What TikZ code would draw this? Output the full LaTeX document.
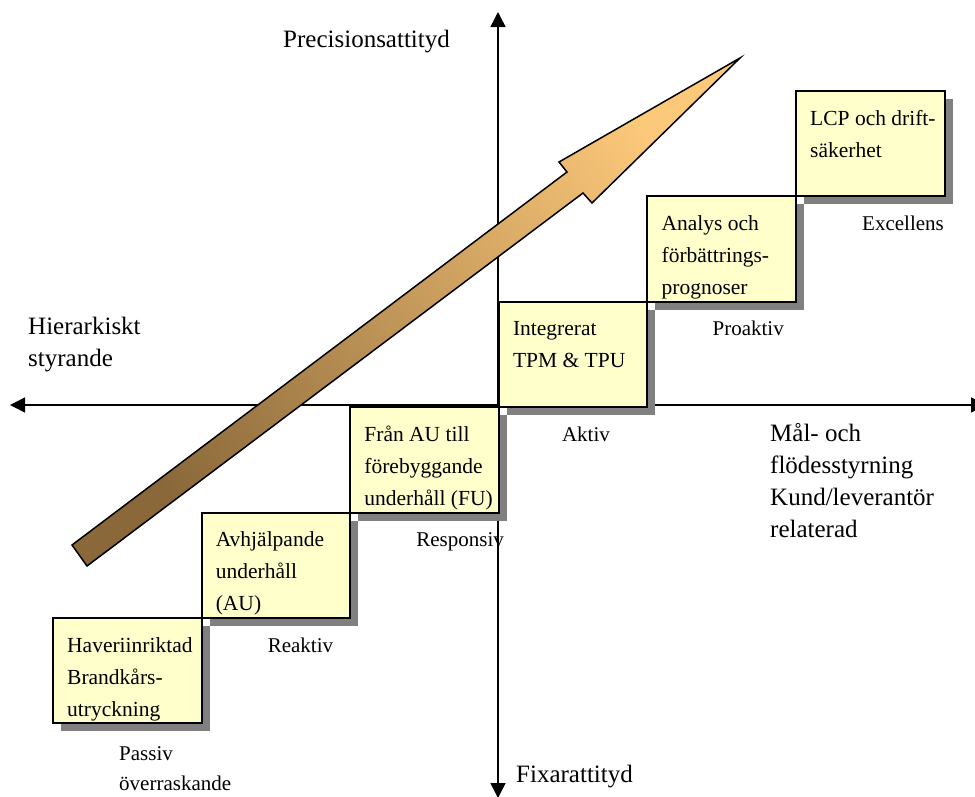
\documentclass[tikz,border=0pt]{standalone}
\usepackage{fontspec}
\setmainfont{Liberation Serif}
\usetikzlibrary{arrows.meta,shadows}

\definecolor{boxfill}{RGB}{255,255,204}
\definecolor{shadowgray}{RGB}{128,128,128}
\definecolor{arrowdark}{RGB}{138,104,58}
\definecolor{arrowlight}{RGB}{252,200,122}

\tikzset{
  axisline/.style={line width=1.5pt,
    {Triangle[length=15pt,width=15pt]}-{Triangle[length=15pt,width=15pt]}},
  stepbox/.style={draw, line width=2pt, fill=boxfill, anchor=north west,
    minimum width=148.6pt, minimum height=105.4pt, inner sep=0pt,
    drop shadow={shadow xshift=8pt, shadow yshift=-8pt, fill=shadowgray, opacity=1}},
  % multi-line labels are anchored at the baseline of their last line
  boxtext/.style={anchor=base west, align=left, inner sep=0pt,
    font=\fontsize{21.5}{32}\selectfont},
  levellabel/.style={anchor=base west, align=left, inner sep=0pt,
    font=\fontsize{21}{30}\selectfont},
  axislabel/.style={anchor=base west, align=left, inner sep=0pt,
    font=\fontsize{25}{32}\selectfont},
  bigarrow/.style={draw=black, line width=1.5pt, line join=miter,
    bottom color=arrowdark, top color=arrowlight, shading angle=-53},
}

\begin{document}
\begin{tikzpicture}[x=1pt,y=-1pt]
  \useasboundingbox (0,0) rectangle (975,796);

  % axes
  \coordinate (xl) at (10,405);
  \coordinate (xr) at (986,405);
  \coordinate (yt) at (498,12);
  \coordinate (yb) at (498,798);
  \draw[axisline] (xl) -- (xr);
  \draw[axisline] (yb) -- (yt);

  % axis labels
  \node[axislabel] (ytop) at (283,47) {Precisionsattityd};
  \node[axislabel] (ybot) at (516,782) {Fixarattityd};
  \node[axislabel] (xleft) at (28,366) {Hierarkiskt\\styrande};
  \node[axislabel] (xright) at (770,537) {Mål- och\\flödesstyrning\\Kund/leverantör\\relaterad};

  % staircase of maintenance levels
  \node[stepbox] (b1) at (52,617) {};
  \node[stepbox] (b2) at (200.6,511.6) {};
  \node[stepbox] (b3) at (349.2,406.2) {};
  \node[stepbox] (b4) at (497.8,300.8) {};
  \node[stepbox] (b5) at (646.4,195.4) {};
  \node[stepbox] (b6) at (795,90) {};

  \node[boxtext] (t1) at ([shift={(15,99)}]b1.north west) {Haveriinriktad\\Brandkårs-\\utryckning};
  \node[boxtext] (t2) at ([shift={(15,99)}]b2.north west) {Avhjälpande\\underhåll\\(AU)};
  \node[boxtext] (t3) at ([shift={(15,99)}]b3.north west) {Från AU till\\förebyggande\\underhåll (FU)};
  \node[boxtext] (t4) at ([shift={(15,67)}]b4.north west) {Integrerat\\TPM \& TPU};
  \node[boxtext] (t5) at ([shift={(15,99)}]b5.north west) {Analys och\\förbättrings-\\prognoser};
  \node[boxtext] (t6) at ([shift={(15,67)}]b6.north west) {LCP och drift-\\säkerhet};

  \node[levellabel] (l1) at ([shift={(67,66)}]b1.south west) {Passiv\\överraskande};
  \node[levellabel] (l2) at ([shift={(67,33)}]b2.south west) {Reaktiv};
  \node[levellabel] (l3) at ([shift={(67,33)}]b3.south west) {Responsiv};
  \node[levellabel] (l4) at ([shift={(64,33)}]b4.south west) {Aktiv};
  \node[levellabel] (l5) at ([shift={(66,33)}]b5.south west) {Proaktiv};
  \node[levellabel] (l6) at ([shift={(67,33)}]b6.south west) {Excellens};

  % rising development arrow
  \shade[bigarrow] (72,545) -- (567,172) -- (559,162) -- (740,58)
    -- (592,203) -- (583,193) -- (87,566) -- cycle;
\end{tikzpicture}
\end{document}
